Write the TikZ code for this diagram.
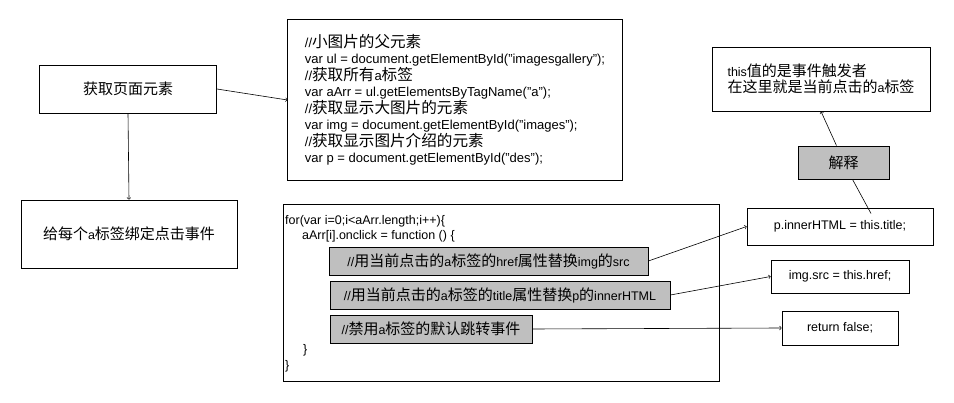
\documentclass[tikz,border=0pt]{standalone}
\usepackage{fontspec}
\setmainfont{Liberation Sans}
\newfontfamily\cjk[Scale=1.2]{Noto Sans CJK SC}
\newcommand{\zh}[1]{{\cjk #1}}
\newcommand{\boxfont}{\fontsize{12.5}{15.5}\selectfont\setlength{\lineskiplimit}{-20pt}}
\newcommand{\codefont}{\fontsize{13}{16.5}\selectfont\setlength{\lineskiplimit}{-20pt}}
\begin{document}
\begin{tikzpicture}[x=1pt,y=-1pt,
  box/.style={draw=black, line width=0.8pt, inner sep=0pt, font=\boxfont},
  graybox/.style={box, fill=gray!50},
  codeline/.style={anchor=west, inner sep=0pt, font=\boxfont},
  link/.style={->, line width=0.6pt}]
\useasboundingbox (0,0) rectangle (954,403);
%left column
\node[box, minimum width=177pt, minimum height=48pt] (getel) at (128,89) {\zh{获取页面元素}};
\node[box, minimum width=216pt, minimum height=68pt] (bind) at (129,234) {\zh{给每个}a\zh{标签绑定点击事件}};
%element code
\node[box, minimum width=334pt, minimum height=161pt, inner xsep=17pt, align=left, font=\codefont] (elems) at (455,100)
  {//\zh{小图片的父元素}\\
   var ul = document.getElementById("imagesgallery");\\
   //\zh{获取所有}a\zh{标签}\\
   var aArr = ul.getElementsByTagName("a");\\
   //\zh{获取显示大图片的元素}\\
   var img = document.getElementById("images");\\
   //\zh{获取显示图片介绍的元素}\\
   var p = document.getElementById("des");};
%loop code
\node[box, minimum width=436pt, minimum height=177pt] (loop) at (501,292.5) {};
\node[codeline] (forline) at (285,221) {for(var i=0;i<aArr.length;i++)\{};
\node[codeline] (clickline) at (302,236) {aArr[i].onclick = function () \{};
\node[graybox, minimum width=319pt, minimum height=28pt] (rhref) at (488.5,261)
  {//\zh{用当前点击的}a\zh{标签的}href\zh{属性替换}img\zh{的}src};
\node[graybox, minimum width=340pt, minimum height=28pt] (rtitle) at (500,295)
  {//\zh{用当前点击的}a\zh{标签的}title\zh{属性替换}p\zh{的}innerHTML};
\node[graybox, minimum width=202pt, minimum height=28pt] (rfalse) at (431,329)
  {//\zh{禁用}a\zh{标签的默认跳转事件}};
\node[codeline] (closeA) at (303,350) {\}};
\node[codeline] (closeB) at (285,366) {\}};
%right column
\node[box, minimum width=218pt, minimum height=64pt, align=left] (note) at (821,79)
  {this\zh{值的是事件触发者}\\\zh{在这里就是当前点击的}a\zh{标签}};
\node[graybox, minimum width=91pt, minimum height=33pt] (expl) at (843.5,162.5) {\zh{解释}};
\node[box, minimum width=186pt, minimum height=37pt] (settitle) at (840,226.5) {p.innerHTML = this.title;};
\node[box, minimum width=138pt, minimum height=33pt] (setsrc) at (840,276.5) {img.src = this.href;};
\node[box, minimum width=116pt, minimum height=34pt] (retfalse) at (840,328) {return false;};
\coordinate (thisword) at ([xshift=31pt,yshift=13pt]settitle.center);
%connectors
\draw[link] (getel.east) -- (elems.west);
\draw[link] (getel.south) -- (bind.north);
\draw[link] (rhref.east) -- (settitle.west);
\draw[link] (rtitle.east) -- (setsrc.west);
\draw[link] (rfalse.east) -- (retfalse.west);
\draw[link] ([xshift=-7pt]expl.north) -- (note.south);
\draw[line width=0.6pt] ([xshift=9pt]expl.south) -- (thisword);
\end{tikzpicture}
\end{document}
